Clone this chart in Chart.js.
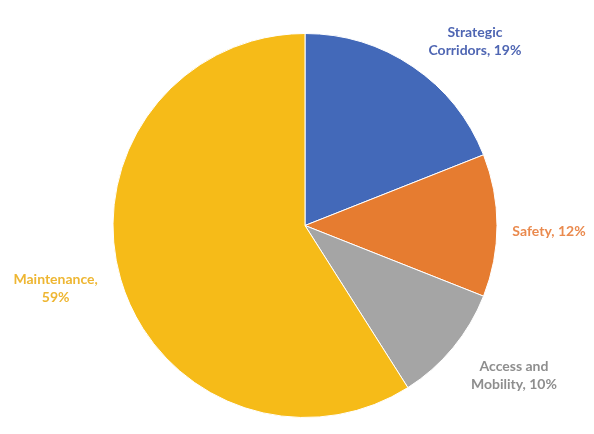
<!doctype html>
<html>
<head>
	<title>Pie Chart</title>
	<meta charset="UTF-8">
	<script src="https://cdn.jsdelivr.net/npm/chart.js@4/dist/chart.umd.min.js"></script>
	<style>
		html, body { margin: 0; padding: 0; background: #fff; }
		canvas { display: block; }
	</style>
</head>
<body>
<canvas id="chart-area" width="594" height="434"></canvas>
<script>
	// data
	var labelLines = [['Strategic', 'Corridors, 19%'], ['Safety, 12%'], ['Access and', 'Mobility, 10%'], ['Maintenance,', '59%']];
	var categories = ['Strategic Corridors', 'Safety', 'Access and Mobility', 'Maintenance'];
	var shares = [19, 12, 10, 59];

	var sliceColors = ['#4369b9', '#e67c30', '#a5a5a5', '#f6bb18'];
	var textColors = ['#4f66b3', '#ea8a4e', '#8e8e8e', '#eeb632'];
	// where each label sits relative to the outer point of its slice
	var labelOffsets = [[62, -25], [52, 6], [61, 28], [-65, 9]];

	var outsideLabels = {
		id: 'outsideLabels',
		afterDraw: function (chart) {
			var ctx = chart.ctx;
			var arcs = chart.getDatasetMeta(0).data;
			ctx.save();
			ctx.font = 'bold 14px Lato, "Open Sans", sans-serif';
			ctx.textAlign = 'center';
			ctx.textBaseline = 'middle';
			arcs.forEach(function (arc, i) {
				var mid = (arc.startAngle + arc.endAngle) / 2;
				var ax = arc.x + Math.cos(mid) * arc.outerRadius;
				var ay = arc.y + Math.sin(mid) * arc.outerRadius;
				var cx = ax + labelOffsets[i][0];
				var cy = ay + labelOffsets[i][1];
				var lines = labelLines[i];
				var lh = 18;
				ctx.fillStyle = textColors[i];
				for (var k = 0; k < lines.length; k++) {
					ctx.fillText(lines[k], cx, cy + (k - (lines.length - 1) / 2) * lh);
				}
			});
			ctx.restore();
		}
	};

	var config = {
		type: 'pie',
		data: {
			labels: categories,
			datasets: [{
				data: shares,
				backgroundColor: sliceColors,
				borderColor: '#ffffff',
				borderWidth: 1
			}]
		},
		options: {
			responsive: false,
			animation: false,
			layout: {
				padding: { top: 33, bottom: 16, left: 16, right: 0 }
			},
			plugins: {
				legend: { display: false },
				tooltip: { enabled: false }
			}
		},
		plugins: [outsideLabels]
	};

	var ctx = document.getElementById('chart-area').getContext('2d');
	window.myPie = new Chart(ctx, config);
</script>
</body>
</html>
